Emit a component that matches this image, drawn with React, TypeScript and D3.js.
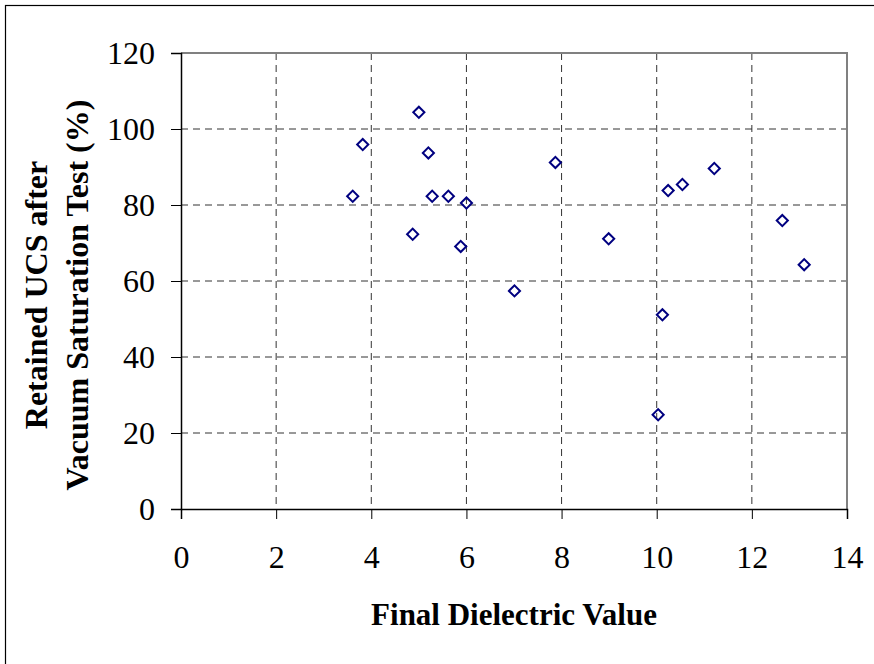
import React, { useRef, useEffect } from 'react';
import * as d3 from 'd3';

// Final dielectric value vs retained UCS (%)
const dielectric = [3.61, 3.82, 4.87, 5.0, 5.2, 5.28, 5.62, 5.88, 6.0, 7.01, 7.87, 8.99, 10.03, 10.12, 10.24, 10.54, 11.21, 12.64, 13.1];
const retained = [82.3, 95.9, 72.3, 104.4, 93.7, 82.3, 82.3, 69.1, 80.5, 57.4, 91.2, 71.1, 24.8, 51.1, 83.8, 85.4, 89.6, 75.9, 64.3];

const xTicks = [0, 2, 4, 6, 8, 10, 12, 14];
const yTicks = [0, 20, 40, 60, 80, 100, 120];

const FONT = '"Liberation Serif", "Times New Roman", serif';

const App: React.FC = () => {
  const svgRef = useRef<SVGSVGElement>(null);

  useEffect(() => {
    if (!svgRef.current) return;
    const W = 874;
    const H = 664;
    const left = 181, right = 847, top = 53, bottom = 509;

    const svg = d3.select(svgRef.current);
    svg.selectAll('*').remove();
    svg.attr('width', W).attr('height', H);

    // outer frame
    svg.append('rect')
      .attr('x', 5.5).attr('y', 5.5)
      .attr('width', W + 20).attr('height', H + 20)
      .attr('fill', '#fff')
      .attr('stroke', '#000')
      .attr('stroke-width', 1.2);

    const x = d3.scaleLinear().domain([0, 14]).range([left, right]);
    const y = d3.scaleLinear().domain([0, 120]).range([bottom, top]);

    // Grid lines
    svg.append('g')
      .selectAll('line')
      .data(yTicks.filter(d => d > 0 && d < 120))
      .join('line')
      .attr('x1', left).attr('x2', right)
      .attr('y1', d => y(d)).attr('y2', d => y(d))
      .attr('stroke', '#333')
      .attr('stroke-width', 1)
      .attr('stroke-dasharray', '7,5');

    svg.append('g')
      .selectAll('line')
      .data(xTicks.filter(d => d > 0 && d < 14))
      .join('line')
      .attr('x1', d => x(d)).attr('x2', d => x(d))
      .attr('y1', top).attr('y2', bottom)
      .attr('stroke', '#333')
      .attr('stroke-width', 1)
      .attr('stroke-dasharray', '7,5');

    // plot area border (top/right gray)
    svg.append('path')
      .attr('d', `M${left},${top}H${right}V${bottom}`)
      .attr('fill', 'none')
      .attr('stroke', '#808080')
      .attr('stroke-width', 2);

    // Y axis
    const yAxis = svg.append('g')
      .attr('transform', `translate(${left},0)`)
      .call(d3.axisLeft(y).tickValues(yTicks).tickSize(10).tickPadding(16).tickFormat(d3.format('d')));
    yAxis.select('.domain').attr('stroke', '#000').attr('stroke-width', 1.5);
    yAxis.selectAll('.tick line').attr('stroke', '#000');
    yAxis.selectAll('text')
      .attr('fill', '#000')
      .attr('font-size', '32px')
      .attr('font-family', FONT);

    // X axis
    const xAxis = svg.append('g')
      .attr('transform', `translate(0,${bottom})`)
      .call(d3.axisBottom(x).tickValues(xTicks).tickSize(10).tickPadding(26).tickFormat(d3.format('d')));
    xAxis.select('.domain').attr('stroke', '#000').attr('stroke-width', 1.5);
    xAxis.selectAll('.tick line').attr('stroke', '#000');
    xAxis.selectAll('text')
      .attr('fill', '#000')
      .attr('font-size', '32px')
      .attr('font-family', FONT);

    // Points
    const diamond = d3.symbol().type(d3.symbolSquare).size(62);
    svg.append('g')
      .selectAll('path')
      .data(dielectric.map((d, i) => [d, retained[i]]))
      .join('path')
      .attr('d', diamond)
      .attr('transform', d => `translate(${x(d[0])},${y(d[1])}) rotate(45)`)
      .attr('fill', 'none')
      .attr('stroke', '#000080')
      .attr('stroke-width', 2);

    // Axis titles
    svg.append('text')
      .attr('x', (left + right) / 2)
      .attr('y', 625)
      .attr('text-anchor', 'middle')
      .attr('font-size', '31px')
      .attr('font-weight', 'bold')
      .attr('font-family', FONT)
      .text('Final Dielectric Value');

    const yTitle = svg.append('text')
      .attr('transform', `translate(0,295) rotate(-90)`)
      .attr('text-anchor', 'middle')
      .attr('font-size', '32px')
      .attr('font-weight', 'bold')
      .attr('font-family', FONT);
    yTitle.append('tspan').attr('x', 0).attr('y', 47).text('Retained UCS after');
    yTitle.append('tspan').attr('x', 0).attr('y', 88).text('Vacuum Saturation Test (%)');
  }, []);

  return (
    <svg ref={svgRef} style={{ position: 'absolute', left: 0, top: 0, display: 'block' }} />
  );
};

export default App;
